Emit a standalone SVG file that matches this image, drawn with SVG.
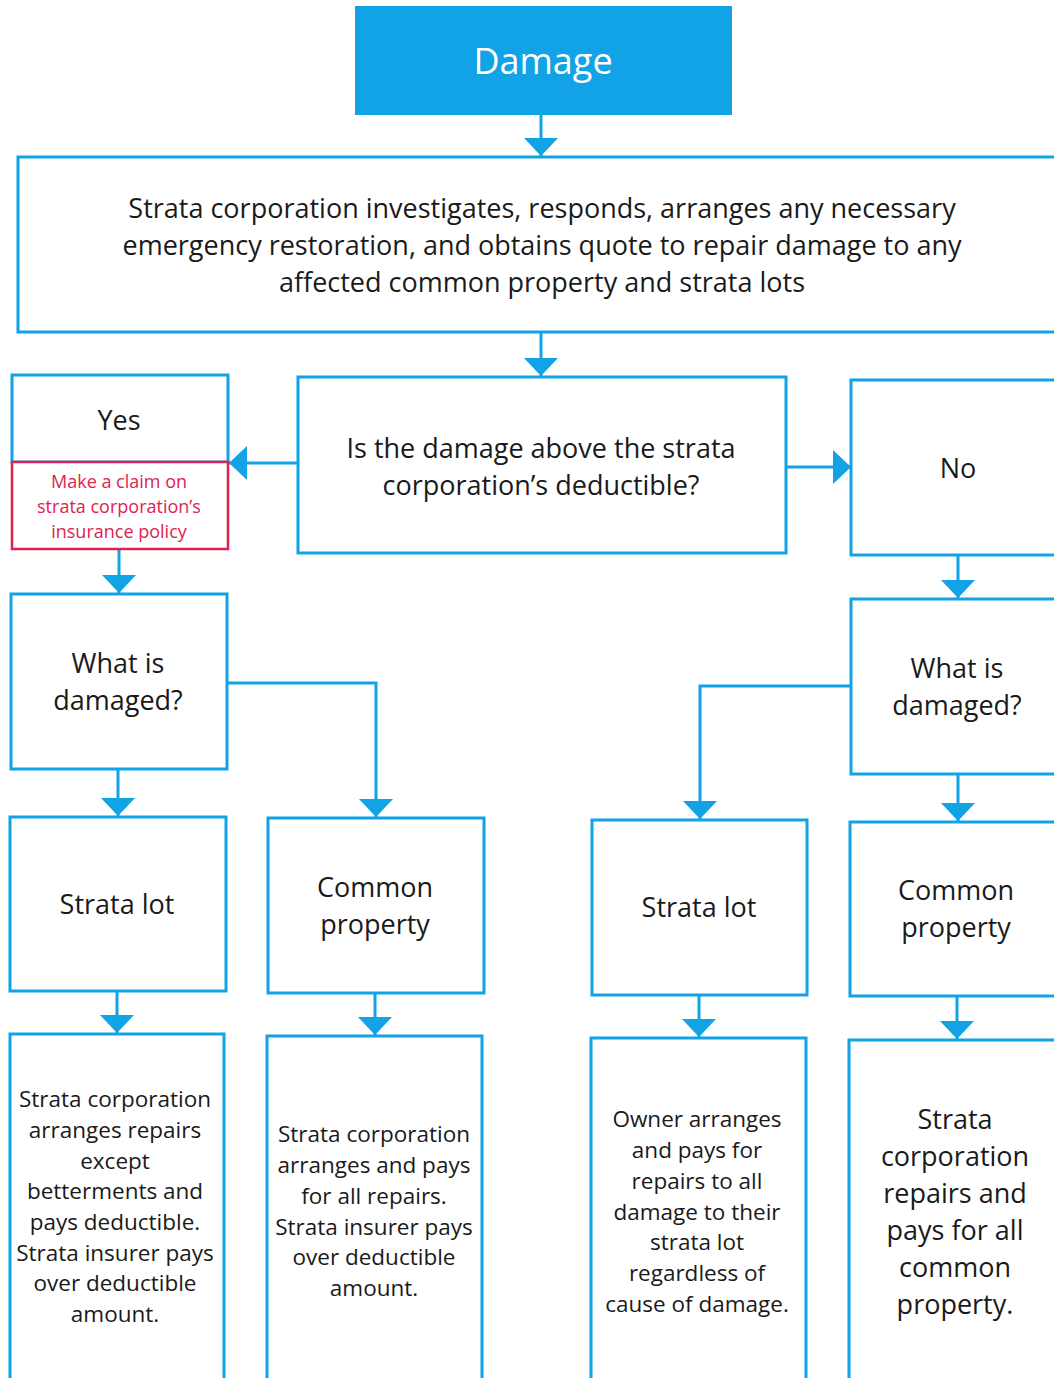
<svg xmlns="http://www.w3.org/2000/svg" width="1054" height="1378" viewBox="0 0 1054 1378">
<defs>
<marker id="ah" markerUnits="userSpaceOnUse" markerWidth="34" markerHeight="34" viewBox="0 0 34 34" refX="18" refY="17" orient="auto">
<polygon points="0,0 18,17 0,34" fill="#12a2e6"/>
</marker>
<style>
.box{fill:#ffffff;stroke:#12a2e6;stroke-width:3}
.red{fill:#ffffff;stroke:#e0234e;stroke-width:2.5}
.con{fill:none;stroke:#12a2e6;stroke-width:3;marker-end:url(#ah)}
text{font-family:"Open Sans","Noto Sans","Liberation Sans",sans-serif;fill:#1a1a1a;text-anchor:middle}
.t28{font-size:27px}
.t24{font-size:22.5px}
.rt{font-size:18px;fill:#e0234e}
</style>
</defs>
<rect width="1054" height="1378" fill="#ffffff"/>
<g id="connectors">
<path class="con" d="M541,115 V156"/>
<path class="con" d="M541,332 V376"/>
<path class="con" d="M298,463 H229"/>
<path class="con" d="M786,467 H851"/>
<path class="con" d="M119,549 V593"/>
<path class="con" d="M958,555 V598"/>
<path class="con" d="M227,683 H376 V817"/>
<path class="con" d="M118,769 V816"/>
<path class="con" d="M851,686 H700 V819"/>
<path class="con" d="M958,774 V821"/>
<path class="con" d="M117,991 V1033"/>
<path class="con" d="M375,993 V1035"/>
<path class="con" d="M699,995 V1037"/>
<path class="con" d="M957,996 V1039"/>
</g>
<g id="damage">
<rect x="355" y="6" width="377" height="109" fill="#12a2e6"/>
<text x="543" y="74" style="font-size:36px;fill:#ffffff">Damage</text>
</g>
<g id="investigate">
<rect class="box" x="18" y="157" width="1050" height="175"/>
<text class="t28" x="542" y="218">Strata corporation investigates, responds, arranges any necessary</text>
<text class="t28" x="542" y="255">emergency restoration, and obtains quote to repair damage to any</text>
<text class="t28" x="542" y="292">affected common property and strata lots</text>
</g>
<g id="question">
<rect class="box" x="298" y="377" width="488" height="176"/>
<text class="t28" x="541" y="458">Is the damage above the strata</text>
<text class="t28" x="541" y="495">corporation’s deductible?</text>
</g>
<g id="yes">
<rect class="box" x="12" y="375" width="216" height="87"/>
<text class="t28" x="119" y="430">Yes</text>
</g>
<g id="claim">
<rect class="red" x="12" y="462" width="216" height="87"/>
<text class="rt" x="119" y="488">Make a claim on</text>
<text class="rt" x="119" y="513">strata corporation’s</text>
<text class="rt" x="119" y="538">insurance policy</text>
</g>
<g id="no">
<rect class="box" x="851" y="380" width="220" height="175"/>
<text class="t28" x="958" y="478">No</text>
</g>
<g id="what-left">
<rect class="box" x="11" y="594" width="216" height="175"/>
<text class="t28" x="118" y="673">What is</text>
<text class="t28" x="118" y="710">damaged?</text>
</g>
<g id="what-right">
<rect class="box" x="851" y="599" width="220" height="175"/>
<text class="t28" x="957" y="678">What is</text>
<text class="t28" x="957" y="715">damaged?</text>
</g>
<g id="lot-left">
<rect class="box" x="10" y="817" width="216" height="174"/>
<text class="t28" x="117" y="914">Strata lot</text>
</g>
<g id="common-left">
<rect class="box" x="268" y="818" width="216" height="175"/>
<text class="t28" x="375" y="897">Common</text>
<text class="t28" x="375" y="934">property</text>
</g>
<g id="lot-right">
<rect class="box" x="592" y="820" width="215" height="175"/>
<text class="t28" x="699" y="917">Strata lot</text>
</g>
<g id="common-right">
<rect class="box" x="850" y="822" width="220" height="174"/>
<text class="t28" x="956" y="900">Common</text>
<text class="t28" x="956" y="937">property</text>
</g>
<g id="outcome-1">
<rect class="box" x="10" y="1034" width="214" height="360"/>
<text class="t24" x="115" y="1107">Strata corporation</text>
<text class="t24" x="115" y="1138">arranges repairs</text>
<text class="t24" x="115" y="1169">except</text>
<text class="t24" x="115" y="1199">betterments and</text>
<text class="t24" x="115" y="1230">pays deductible.</text>
<text class="t24" x="115" y="1261">Strata insurer pays</text>
<text class="t24" x="115" y="1291">over deductible</text>
<text class="t24" x="115" y="1322">amount.</text>
</g>
<g id="outcome-2">
<rect class="box" x="267" y="1036" width="215" height="360"/>
<text class="t24" x="374" y="1142">Strata corporation</text>
<text class="t24" x="374" y="1173">arranges and pays</text>
<text class="t24" x="374" y="1204">for all repairs.</text>
<text class="t24" x="374" y="1235">Strata insurer pays</text>
<text class="t24" x="374" y="1265">over deductible</text>
<text class="t24" x="374" y="1296">amount.</text>
</g>
<g id="outcome-3">
<rect class="box" x="591" y="1038" width="215" height="360"/>
<text class="t24" x="697" y="1127">Owner arranges</text>
<text class="t24" x="697" y="1158">and pays for</text>
<text class="t24" x="697" y="1189">repairs to all</text>
<text class="t24" x="697" y="1220">damage to their</text>
<text class="t24" x="697" y="1250">strata lot</text>
<text class="t24" x="697" y="1281">regardless of</text>
<text class="t24" x="697" y="1312">cause of damage.</text>
</g>
<g id="outcome-4">
<rect class="box" x="849" y="1040" width="220" height="360"/>
<text class="t28" x="955" y="1129">Strata</text>
<text class="t28" x="955" y="1166">corporation</text>
<text class="t28" x="955" y="1203">repairs and</text>
<text class="t28" x="955" y="1240">pays for all</text>
<text class="t28" x="955" y="1277">common</text>
<text class="t28" x="955" y="1314">property.</text>
</g>
</svg>
